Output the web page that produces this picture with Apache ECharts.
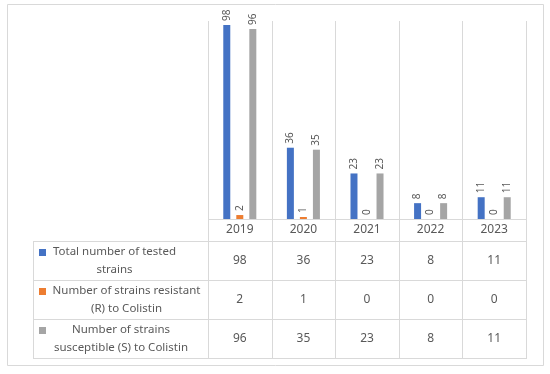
<!DOCTYPE html>
<html><head><meta charset="utf-8">
<script src="https://cdn.jsdelivr.net/npm/echarts@6/dist/echarts.min.js"></script>
<style>html,body{margin:0;padding:0;background:#fff}#c{width:550px;height:374px}</style>
</head><body><div id="c"></div>
<script>
const years = ['2019', '2020', '2021', '2022', '2023'];
const totalTested = [98, 36, 23, 8, 11];
const resistant = [2, 1, 0, 0, 0];
const susceptible = [96, 35, 23, 8, 11];
const seriesNames = ['Total number of tested strains', 'Number of strains resistant (R) to Colistin', 'Number of strains susceptible (S) to Colistin'];
const rowLabels = ['Total number of tested\nstrains', 'Number of strains resistant\n(R) to Colistin', 'Number of strains\nsusceptible (S) to Colistin'];
const colors = ['#4472C4', '#ED7D31', '#A5A5A5'];

const FONT = 'Noto Sans';
const TXT = '#595959';
const LINE = '#d9d9d9';
const G = { left: 208, right: 526, top: 21, bottom: 219 };
const W = 550, H = 374;
const rowEdges = [219, 241, 280, 319, 358];
const tableLeft = 33;
const rowCenters = rowEdges.slice(0, -1).map((y, i) => (y + rowEdges[i + 1]) / 2);
const labelCenters = [114.5, 126.5, 121];
const seriesData = [totalTested, resistant, susceptible];

const chart = echarts.init(document.getElementById('c'), null, { renderer: 'canvas' });

const graphics = [];
graphics.push({ type: 'rect', shape: { x: 7.5, y: 4.5, width: 536, height: 361 }, style: { fill: 'none', stroke: LINE, lineWidth: 1 }, silent: true });
const colW = (G.right - G.left) / years.length;
for (let i = 0; i <= years.length; i++) {
  const x = Math.round(G.left + i * colW) + 0.5;
  graphics.push({ type: 'line', shape: { x1: x, y1: G.top, x2: x, y2: rowEdges[rowEdges.length - 1] }, style: { stroke: LINE, lineWidth: 1 }, silent: true });
}
graphics.push({ type: 'line', shape: { x1: tableLeft + 0.5, y1: rowEdges[1], x2: tableLeft + 0.5, y2: rowEdges[rowEdges.length - 1] }, style: { stroke: LINE, lineWidth: 1 }, silent: true });
for (let r = 1; r < rowEdges.length; r++) {
  const y = rowEdges[r] + 0.5;
  graphics.push({ type: 'line', shape: { x1: tableLeft, y1: y, x2: G.right + 1, y2: y }, style: { stroke: LINE, lineWidth: 1 }, silent: true });
}
graphics.push({ type: 'line', shape: { x1: G.left, y1: G.bottom + 0.5, x2: G.right + 1, y2: G.bottom + 0.5 }, style: { stroke: LINE, lineWidth: 1 }, silent: true });

for (let s = 0; s < seriesNames.length; s++) {
  const cy = rowCenters[s + 1];
  graphics.push({ type: 'rect', shape: { x: 39, y: cy - 11.5, width: 7, height: 7 }, style: { fill: colors[s] }, silent: true });
  graphics.push({ type: 'text', x: labelCenters[s], y: cy, style: { text: rowLabels[s], fill: TXT, font: '11.5px "' + FONT + '"', align: 'center', verticalAlign: 'middle', lineHeight: 17.5 }, silent: true });
}

const xAxes = [{
  type: 'category', data: years, gridIndex: 0, position: 'bottom',
  axisLine: { show: false }, axisTick: { show: false }, splitLine: { show: false },
  axisLabel: { color: TXT, fontFamily: FONT, fontSize: 12, margin: rowCenters[0] - G.bottom, verticalAlign: 'middle' }
}];
seriesData.forEach((arr, s) => {
  xAxes.push({
    type: 'category', data: years, gridIndex: 0, position: 'bottom', offset: rowCenters[s + 1] - G.bottom,
    axisLine: { show: false }, axisTick: { show: false }, splitLine: { show: false },
    axisLabel: { color: TXT, fontFamily: FONT, fontSize: 12, margin: 0, verticalAlign: 'middle', formatter: (v, i) => String(arr[i]) }
  });
});

chart.setOption({
  animation: false,
  backgroundColor: '#fff',
  grid: { left: G.left, right: W - G.right, top: G.top, bottom: H - G.bottom, containLabel: false },
  xAxis: xAxes,
  yAxis: { type: 'value', min: 0, max: 100, show: false },
  series: seriesData.map((arr, s) => ({
    type: 'bar', name: seriesNames[s], data: arr, xAxisIndex: 0,
    barWidth: 7, barGap: '86%',
    itemStyle: { color: colors[s] },
    label: { show: true, position: 'top', rotate: 90, align: 'left', verticalAlign: 'middle', distance: 4, color: TXT, fontFamily: FONT, fontSize: 10 }
  })),
  graphic: graphics
});
</script></body></html>
